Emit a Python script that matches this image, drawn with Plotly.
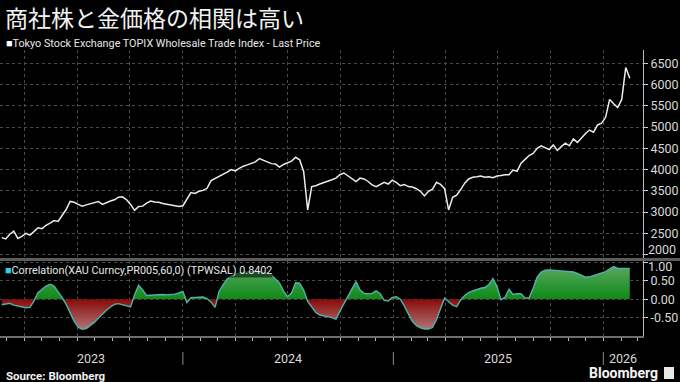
import pandas as pd
import plotly.graph_objects as go

# ---------------- data ----------------
title_text = "商社株と金価格の相関は高い"
price_label = "Tokyo Stock Exchange TOPIX Wholesale Trade Index - Last Price"
corr_label = "Correlation(XAU Curncy,PR005,60,0) (TPWSAL) 0.8402"
source_text = "Source: Bloomberg"
brand_text = "Bloomberg"

first_week = "2023-02-20"
x_range = ["2023-02-17", "2026-03-11"]
year_labels = ["2023", "2024", "2025", "2026"]

price_ticks = [2000, 2500, 3000, 3500, 4000, 4500, 5000, 5500, 6000, 6500]
corr_ticks = [-0.5, 0.0, 0.5, 1.0]

price = [
    2400, 2370, 2480, 2550, 2380, 2430, 2500, 2460, 2540, 2630,
    2610, 2690, 2740, 2800, 2780, 2920, 3060, 3250, 3230, 3180,
    3140, 3170, 3200, 3230, 3250, 3180, 3230, 3260, 3290, 3350,
    3360, 3290, 3180, 3040, 3130, 3140, 3210, 3260, 3240, 3230,
    3200, 3180, 3160, 3140, 3130, 3150, 3300, 3460, 3440, 3490,
    3510, 3560, 3740, 3790, 3830, 3890, 3940, 4000, 3970, 4030,
    4080, 4110, 4150, 4180, 4260, 4220, 4170, 4140, 4130, 4060,
    4120, 4160, 4200, 4290, 4230, 3950, 3050, 3600, 3620, 3660,
    3690, 3720, 3760, 3800, 3880, 3920, 3850, 3780, 3720, 3800,
    3780, 3720, 3640, 3600, 3660, 3700, 3660, 3750, 3700, 3620,
    3650, 3600, 3590, 3550, 3490, 3380, 3490, 3540, 3700, 3650,
    3550, 3050, 3350, 3400, 3530, 3680, 3780, 3820, 3830, 3850,
    3820, 3830, 3810, 3850, 3860, 3880, 3880, 3990, 3960, 4150,
    4240, 4330, 4380, 4500, 4560, 4520, 4470, 4580, 4450, 4540,
    4620, 4560, 4720, 4640, 4750, 4850, 4930, 4880, 5050, 5090,
    5230, 5650, 5550, 5460, 5650, 6400, 6150,
]

corr = [
    -0.15, -0.12, -0.11, -0.16, -0.19, -0.20, -0.23, -0.22, -0.05, 0.18,
    0.28, 0.36, 0.41, 0.36, 0.20, 0.05, -0.14, -0.38, -0.60, -0.76,
    -0.82, -0.80, -0.72, -0.63, -0.52, -0.40, -0.30, -0.21, -0.14, -0.12,
    -0.15, -0.18, -0.21, 0.12, 0.38, 0.25, 0.10, 0.11, 0.12, 0.12,
    0.13, 0.12, 0.12, 0.14, 0.17, 0.21, -0.09, 0.04, 0.05, 0.05,
    0.06, 0.02, -0.08, -0.22, 0.22, 0.40, 0.55, 0.63, 0.68, 0.71,
    0.73, 0.75, 0.75, 0.76, 0.75, 0.73, 0.71, 0.66, 0.55, 0.44,
    0.22, 0.07, 0.17, 0.45, 0.44, 0.25, -0.06, -0.22, -0.36, -0.43,
    -0.45, -0.47, -0.50, -0.54, -0.35, -0.12, 0.08, 0.28, 0.48, 0.25,
    0.16, 0.15, 0.16, 0.23, 0.15, -0.03, -0.05, 0.05, 0.07, 0.00,
    -0.18, -0.40, -0.60, -0.72, -0.78, -0.81, -0.81, -0.77, -0.55, -0.25,
    0.03, -0.06, -0.16, -0.20, -0.02, 0.10, 0.18, 0.23, 0.27, 0.30,
    0.32, 0.40, 0.56, 0.35, -0.01, 0.05, 0.27, 0.13, 0.15, 0.15,
    0.03, 0.04, 0.30, 0.60, 0.74, 0.79, 0.80, 0.79, 0.78, 0.77,
    0.77, 0.76, 0.74, 0.70, 0.64, 0.60, 0.61, 0.64, 0.67, 0.70,
    0.75, 0.83, 0.89, 0.84, 0.84, 0.84, 0.8402,
]

dates = pd.date_range(first_week, periods=len(price), freq="7D")

# ---------------- styling ----------------
BG = "#000000"
GRID = "#4a4a4a"
TXT = "#d8d8d8"
FONT = "Roboto"

TOP_DOMAIN = [0.2727, 1.0]
BOT_DOMAIN = [0.0, 0.2622]
P_RANGE = [1920, 6813]
C_RANGE = [-1.0, 1.04]
c_lo, c_hi = -0.85, 0.95
zero_frac = (0 - c_lo) / (c_hi - c_lo)

fig = go.Figure()

fig.add_trace(go.Scatter(
    x=dates, y=price, mode="lines",
    line=dict(color="#ececec", width=1.5),
    xaxis="x", yaxis="y", hoverinfo="skip", showlegend=False,
))

fig.add_trace(go.Scatter(
    x=dates, y=corr, mode="lines", fill="tozeroy",
    line=dict(color="#4fb3ad", width=1.4),
    fillgradient=dict(
        type="vertical", start=c_lo, stop=c_hi,
        colorscale=[
            [0.0, "#b07a7a"],
            [zero_frac - 0.001, "#8a0a0a"],
            [zero_frac, "#0d8a18"],
            [1.0, "#5fa865"],
        ],
    ),
    xaxis="x2", yaxis="y2", hoverinfo="skip", showlegend=False,
))

axis_common = dict(
    type="date", range=x_range, dtick="M3", tick0="2023-01-01",
    showgrid=True, gridcolor=GRID, griddash="dot", gridwidth=1,
    zeroline=False, showticklabels=False,
)

y_common = dict(
    side="right", ticks="outside", ticklen=4, tickcolor="#cccccc",
    showline=True, linecolor="#bdbdbd", linewidth=1,
    showgrid=True, gridcolor=GRID, griddash="dot", zeroline=False,
    tickfont=dict(size=12.5, color=TXT),
)

# edge labels drawn on overlay axes so they can be nudged inward
edge_common = dict(
    side="right", ticks="", showline=False, showgrid=False, zeroline=False,
    tickfont=dict(size=12.5, color=TXT),
)

fig.update_layout(
    width=680, height=382,
    paper_bgcolor=BG, plot_bgcolor=BG,
    margin=dict(l=0, r=37, t=50, b=46),
    font=dict(family=FONT, color=TXT, size=12),
    xaxis=dict(domain=[0, 1], anchor="y", ticks="", **axis_common),
    xaxis2=dict(
        domain=[0, 1], anchor="y2", matches="x",
        ticks="outside", ticklen=3, tickcolor="#bbbbbb",
        showline=True, linecolor="#6e6e6e", linewidth=2,
        minor=dict(dtick="M1", tick0="2023-01-01", ticks="outside",
                   ticklen=3, tickcolor="#bbbbbb", showgrid=False),
        **axis_common,
    ),
    yaxis=dict(
        domain=TOP_DOMAIN, anchor="x", range=P_RANGE,
        tickvals=price_ticks,
        ticktext=[str(v) if v != price_ticks[0] else "" for v in price_ticks],
        **y_common,
    ),
    yaxis2=dict(
        domain=BOT_DOMAIN, anchor="x2", range=C_RANGE,
        tickvals=corr_ticks,
        ticktext=[f"{v:.2f}" if v != corr_ticks[-1] else "" for v in corr_ticks],
        **y_common,
    ),
    yaxis3=dict(
        overlaying="y", anchor="x", range=P_RANGE,
        tickvals=[price_ticks[0]], ticktext=[str(price_ticks[0])],
        ticklabelshift=-5, ticklabelstandoff=4, **edge_common,
    ),
    yaxis4=dict(
        overlaying="y2", anchor="x2", range=C_RANGE,
        tickvals=[corr_ticks[-1]], ticktext=[f"{corr_ticks[-1]:.2f}"],
        ticklabelshift=4, ticklabelstandoff=4, **edge_common,
    ),
)

# invisible carriers for the overlay axes
fig.add_trace(go.Scatter(x=[dates[0]], y=[price[0]], xaxis="x", yaxis="y3",
                         mode="markers", marker=dict(opacity=0), hoverinfo="skip",
                         showlegend=False))
fig.add_trace(go.Scatter(x=[dates[0]], y=[corr[0]], xaxis="x2", yaxis="y4",
                         mode="markers", marker=dict(opacity=0), hoverinfo="skip",
                         showlegend=False))

# separator band between the panels
fig.add_shape(type="rect", xref="paper", yref="paper",
              x0=-0.01, x1=1.07, y0=BOT_DOMAIN[1], y1=TOP_DOMAIN[0],
              fillcolor="#5c5c5c", line=dict(width=0), layer="below")

# year labels centred on the visible part of each year, with separators
r0, r1 = pd.Timestamp(x_range[0]), pd.Timestamp(x_range[1])
for yl in year_labels:
    ys = pd.Timestamp(f"{yl}-01-01")
    ye = pd.Timestamp(f"{int(yl) + 1}-01-01")
    a, b = max(ys, r0), min(ye, r1)
    mid = a + (b - a) / 2
    fig.add_annotation(x=mid, y=-0.08, xref="x2", yref="paper", text=yl,
                       showarrow=False, font=dict(size=12.5, color=TXT),
                       xanchor="center", yanchor="middle")
    if ys > r0:
        fig.add_shape(type="line", xref="x2", yref="paper",
                      x0=ys, x1=ys, y0=-0.056, y1=-0.101,
                      line=dict(color="#8a8a8a", width=1))

# title
fig.add_annotation(x=0.004, y=1 + (50 - 17) / 286, xref="paper", yref="paper",
                   text=title_text, showarrow=False, xanchor="left", yanchor="middle",
                   font=dict(family="Noto Sans CJK JP", size=23, color="#f2f2f2"))

# legends
fig.add_annotation(x=0.006, y=1 + (50 - 44) / 286, xref="paper", yref="paper",
                   text="<span style='color:#ffffff'>■</span>" + price_label,
                   showarrow=False, xanchor="left", yanchor="middle",
                   font=dict(size=10.8, color="#e6e6e6"))
fig.add_annotation(x=0.006, y=(336 - 270) / 286, xref="paper", yref="paper",
                   text="<span style='color:#2ad4e6'>■</span>" + corr_label,
                   showarrow=False, xanchor="left", yanchor="middle",
                   bgcolor="rgba(0,0,0,0.55)", borderpad=0,
                   font=dict(size=10.8, color="#e6e6e6"))

# footer
fig.add_annotation(x=0.006, y=(336 - 376) / 286, xref="paper", yref="paper",
                   text="<b>" + source_text + "</b>", showarrow=False,
                   xanchor="left", yanchor="middle",
                   font=dict(size=11.5, color="#f0f0f0"))
fig.add_annotation(x=660 / 643, y=(336 - 373) / 286, xref="paper", yref="paper",
                   text="<b>" + brand_text + "</b>", showarrow=False,
                   xanchor="right", yanchor="middle",
                   font=dict(size=14, color="#f4f4f4"))
fig.add_shape(type="rect", xref="paper", yref="paper",
              x0=664 / 643, x1=674 / 643, y0=(336 - 379) / 286, y1=(336 - 367) / 286,
              fillcolor="#e8e8e8", line=dict(width=0))

fig.write_html(
    "out.html",
    config=dict(displayModeBar=False),
    post_script="document.body.style.margin='0';document.body.style.background='#000';",
)
